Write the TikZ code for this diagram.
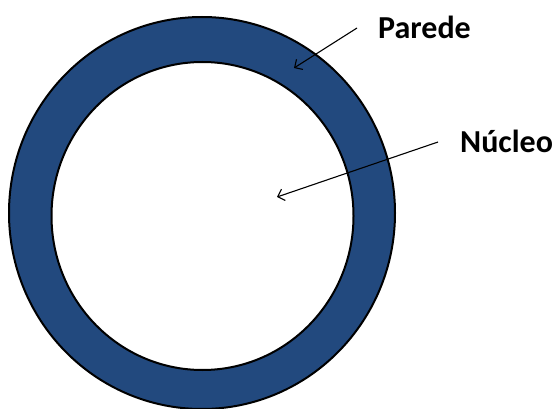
\documentclass[tikz,border=0pt]{standalone}
\usepackage{fontspec}
\setmainfont{Carlito}
\usetikzlibrary{arrows.meta}
\definecolor{ringblue}{RGB}{34,73,126}
\tikzset{
  ringline/.style={draw=black, line width=2pt},
  label/.style={font=\fontsize{32}{36}\selectfont\bfseries, inner sep=0pt, anchor=base west},
  pointer/.style={draw=black, line width=1.1pt, -{Straight Barb[length=6pt,width=12pt,line width=1.1pt]}}
}
\begin{document}
\begin{tikzpicture}[x=1pt,y=-1pt]
\useasboundingbox (0,0) rectangle (557,409);
% ring
\fill[ringblue, even odd rule] (202,213) ellipse [x radius=193, y radius=196]
                               (202.5,216) ellipse [x radius=151, y radius=154];
\draw[ringline] (202,213) ellipse [x radius=193, y radius=196];
\draw[ringline] (202.5,216) ellipse [x radius=151, y radius=154];
% labels
\node[label] (parede) at (378,39) {Parede};
\node[label] (nucleo) at (460,153) {Núcleo};
% arrow end points
\coordinate (paredeStart) at (357,28);
\coordinate (paredeTip) at (294,68);
\coordinate (nucleoStart) at (438,142);
\coordinate (nucleoTip) at (277,197);
\draw[pointer] (paredeStart) -- (paredeTip);
\draw[pointer] (nucleoStart) -- (nucleoTip);
\end{tikzpicture}
\end{document}
